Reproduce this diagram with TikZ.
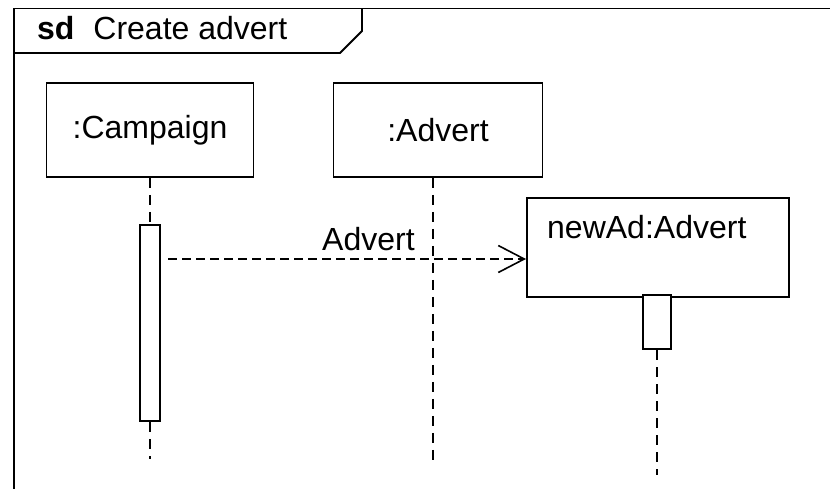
\documentclass[tikz,border=0pt]{standalone}
\usepackage{fontspec}
\setmainfont{Liberation Sans}
\usetikzlibrary{positioning,arrows.meta,calc}

\begin{document}
\begin{tikzpicture}[
  x=1pt, y=-1pt,
  font=\fontsize{32}{38}\selectfont,
  lifebox/.style={draw, line width=1.8pt, fill=white, minimum width=207pt, minimum height=94pt, inner sep=0pt},
  actbar/.style={draw, line width=2.8pt, fill=white, minimum width=20pt, inner sep=0pt},
  life/.style={line width=2.2pt, dash pattern=on 10pt off 7pt},
  msg/.style={line width=1.6pt, dash pattern=on 9pt off 5pt, -{Straight Barb[length=26pt,width=27pt]}},
  lbl/.style={inner sep=0pt, anchor=base}
]
\useasboundingbox (0,0) rectangle (830,488);
% Rahmen des Sequenzdiagramms
\draw[line width=1.8pt] (14,500) -- (14,8.5) -- (840,8.5);
\draw[line width=1.8pt] (14,53) -- (340,53) -- (362,31) -- (362,8.5);
\node[anchor=base west, inner sep=0pt] (title) at (37,39) {\textbf{sd}\hspace{10pt} Create advert};

% Objekte
\node[lifebox] (camp) at (150,130) {:Campaign};
\node[lifebox, minimum width=209pt] (adv) at (438,130) {:Advert};
\node[lifebox, minimum width=262pt, minimum height=99pt, anchor=north west] (newad) at (526,197) {};
\node[anchor=base west, inner sep=0pt] (newadtxt) at (547,238) {newAd:Advert};

% Aktivierungen
\node[actbar, minimum height=196pt] (act1) at (150,323) {};
\node[actbar, minimum width=28pt, minimum height=54pt] (act2) at (657,322) {};

% Lebenslinien
\coordinate (campend)  at (150,459);
\coordinate (advend)   at (433,465);
\coordinate (newadend) at (657,475);
\draw[life] (camp.south) -- (act1.north);
\draw[life] (act1.south) -- (campend);
\draw[life] (adv.south -| advend) -- (advend);
\draw[life] (act2.south) -- (newadend);

% Nachricht (Erzeugung)
\coordinate (msgstart) at (168,259);
\draw[msg] (msgstart) -- (newad.west |- msgstart) node[lbl, pos=0.56, yshift=9pt] {Advert};
\end{tikzpicture}
\end{document}
